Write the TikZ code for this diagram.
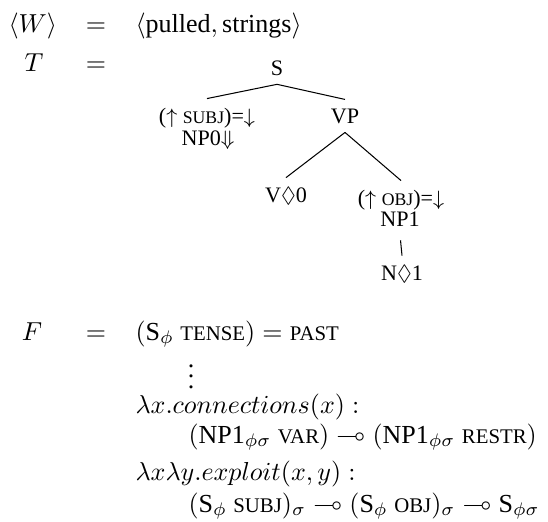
\documentclass[tikz,border=0pt]{standalone}
\usepackage{amsmath,amssymb}
\usepackage[no-math]{fontspec}
\setmainfont{Liberation Serif}
\newcommand\fsc[2][8]{{\fontsize{#1pt}{#1pt}\selectfont #2}}
\begin{document}
\begin{tikzpicture}[x=0.3846pt,y=-0.3846pt,
  lbl/.style={inner sep=0pt, anchor=base west},
  ctr/.style={inner sep=0pt, anchor=base},
  tn/.style={inner xsep=0pt, inner ysep=3.3pt, anchor=base, font=\fontsize{8.5}{10}\selectfont},
  edge/.style={line width=0.4pt}]
\useasboundingbox (0,0) rectangle (548,521);

% top rows
\node[lbl] (w) at (8,32) {$\langle W\rangle$};
\node[ctr] (eq1) at (96,32) {$=$};
\node[lbl] (ws) at (135,32) {$\langle\text{pulled}, \text{strings}\rangle$};
\node[ctr] (t) at (34,71) {$T$};
\node[ctr] (eq2) at (96,71) {$=$};

% tree
\node[tn] (s) at (277,75) {S};
\node[tn] (subj) at (207,123) {($\uparrow$ \fsc[6.8]{SUBJ})=$\downarrow$};
\node[tn] (np0) at (208,145) {NP0$\Downarrow$};
\node[tn] (vp) at (345,123) {VP};
\node[tn] (v) at (286,202) {V$\Diamond$0};
\node[tn] (obj) at (401,205) {($\uparrow$ \fsc[6.8]{OBJ})=$\downarrow$};
\node[tn] (np1) at (400,226) {NP1};
\node[tn] (n) at (402,280) {N$\Diamond$1};

\draw[edge] (s.south) -- (subj.north);
\draw[edge] (s.south) -- (vp.north);
\draw[edge] (vp.south) -- (v.north);
\draw[edge] (vp.south) -- (obj.north);
\draw[edge, shorten <=2pt] (np1.south) -- (n.north);

% F part
\node[ctr] (f) at (32,340) {$F$};
\node[ctr] (eq3) at (96,340) {$=$};
\node[lbl] (tense) at (135,340) {$(\text{S}_\phi\ \text{\fsc{TENSE}}) = \text{\fsc{PAST}}$};
\node[ctr] (dots) at (191,388) {$\vdots$};
\node[lbl] (conn) at (135,413) {$\lambda x.connections(x):$};
\node[lbl] (connt) at (188,443) {$(\text{NP1}_{\phi\sigma}\ \text{\fsc{VAR}})\multimap(\text{NP1}_{\phi\sigma}\ \text{\fsc{RESTR}})$};
\node[lbl] (expl) at (135,480) {$\lambda x\lambda y.exploit(x,y):$};
\node[lbl] (explt) at (188,512) {$(\text{S}_\phi\ \text{\fsc{SUBJ}})_\sigma\multimap(\text{S}_\phi\ \text{\fsc{OBJ}})_\sigma\multimap\text{S}_{\phi\sigma}$};
\end{tikzpicture}
\end{document}
